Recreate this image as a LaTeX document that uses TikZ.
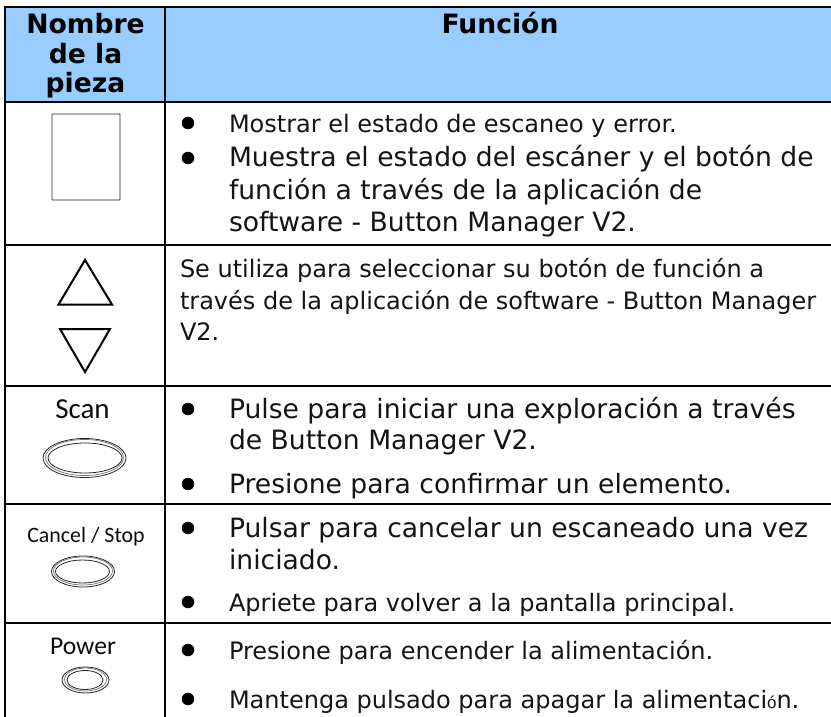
\documentclass[tikz,border=0pt]{standalone}
\usepackage{fontspec}
\setmainfont{DejaVu Sans}
\newfontfamily\lblfont{Carlito}
\newfontfamily\thinfont{Liberation Sans}
\definecolor{headblue}{HTML}{99CCFF}
\tikzset{
  x=1pt,y=-1pt,
  rule/.style={line width=1.8pt,black},
  tx/.style={anchor=base west,inner sep=0pt,outer sep=0pt,text=black!92,yshift=-1pt},
  bul/.style={circle,fill=black,inner sep=0pt,minimum size=12.5pt},
  head/.style={anchor=base,inner sep=0pt,yshift=-1pt,font=\bfseries\fontsize{26.6}{30}\selectfont},
  lbl/.style={anchor=base,inner sep=0pt,yshift=-1pt,text=black!95},
  icon/.style={draw=black!85,line width=0.8pt},
  iconlight/.style={draw=black!55,line width=0.7pt},
  tri/.style={draw=black,line width=2pt,line join=miter},
}
\newcommand{\fa}{\fontsize{24}{28}\selectfont}
\newcommand{\fb}{\fontsize{26.6}{30}\selectfont}
\begin{document}
\begin{tikzpicture}
\useasboundingbox (0,0) rectangle (831,717);
\fill[white] (0,0) rectangle (831,717);
\fill[headblue] (5,7) rectangle (831,101.7);
% grid
\draw[rule] (4.1,7) -- (831,7);
\draw[rule] (5,101.7) -- (831,101.7);
\draw[rule] (5,245) -- (831,245);
\draw[rule] (5,385.7) -- (831,385.7);
\draw[rule] (5,504) -- (831,504);
\draw[rule] (5,622.7) -- (831,622.7);
\draw[rule] (5,7) -- (5,717);
\draw[rule] (165,7) -- (165,717);
% header
\node[head] (h1) at (85.5,33) {Nombre};
\node[head] (h2) at (85.5,63) {de la};
\node[head] (h3) at (85.5,92) {pieza};
\node[head] (h4) at (500,33) {Función};
% row 1
\node[icon,draw,rounded corners=0.5pt,minimum width=68pt,minimum height=86pt,inner sep=0pt] (display) at (86,157) {};
\node[bul] (b1) at (188,123) {};
\node[tx] (t1) at (229,131) {\fa Mostrar el estado de escaneo y error.};
\node[bul] (b2) at (188,158) {};
\node[tx] (t2a) at (229,165) {\fb Muestra el estado del escáner y el botón de};
\node[tx] (t2b) at (229,198) {\fb función a través de la aplicación de};
\node[tx] (t2c) at (229,230) {\fb software - Button Manager V2.};
% row 2
\draw[tri] (85,260) -- (112,304.5) -- (58.5,304.5) -- cycle;
\draw[tri] (60,329) -- (110,329) -- (85,372) -- cycle;
\node[tx] (t3a) at (180,276) {\fa Se utiliza para seleccionar su botón de función a};
\node[tx] (t3b) at (180,308) {\fa través de la aplicación de software - Button Manager};
\node[tx] (t3c) at (180,339) {\fa V2.};
% row 3
\node[lbl,font=\lblfont\fontsize{29}{32}\selectfont] (scan) at (82.5,417) {Scan};
\draw[icon] (84.5,458) ellipse (41.5 and 19.5);
\draw[iconlight] (84.5,457.5) ellipse (39 and 18);
\draw[icon] (85,458) ellipse (37 and 15);
% row 3 text
\node[bul] (b4) at (188,409) {};
\node[tx] (t4a) at (229,417) {\fb Pulse para iniciar una exploración a través};
\node[tx] (t4b) at (229,448) {\fb de Button Manager V2.};
\node[bul] (b5) at (188,484) {};
\node[tx] (t5) at (229,492) {\fb Presione para confirmar un elemento.};
% row 4
\node[lbl,font=\lblfont\fontsize{21.9}{25}\selectfont] (cancel) at (86,541) {Cancel / Stop};
\draw[icon] (83,571.5) ellipse (31.5 and 15.5);
\draw[iconlight] (83,571) ellipse (29.5 and 14);
\draw[icon] (82.5,571.5) ellipse (27 and 11.5);
\node[bul] (b6) at (188,528) {};
\node[tx] (t6a) at (229,536) {\fb Pulsar para cancelar un escaneado una vez};
\node[tx] (t6b) at (229,568) {\fb iniciado.};
\node[bul] (b7) at (188,602) {};
\node[tx] (t7) at (229,610) {\fa Apriete para volver a la pantalla principal.};
% row 5
\node[lbl,font=\lblfont\fontsize{25.6}{29}\selectfont] (power) at (83,653) {Power};
\draw[icon] (85.5,680) ellipse (23.5 and 13);
\draw[iconlight] (85.5,679.5) ellipse (21 and 11.5);
\draw[icon] (85,680) ellipse (18 and 9.5);
\node[bul] (b8) at (188,650) {};
\node[tx] (t8) at (229,658) {\fa Presione para encender la alimentación.};
\node[bul] (b9) at (188,699) {};
\node[tx] (t9) at (229,707) {\fa Mantenga pulsado para apagar la alimentaci{\thinfont\fontsize{17}{22}\selectfont ó}n.};
\end{tikzpicture}
\end{document}
